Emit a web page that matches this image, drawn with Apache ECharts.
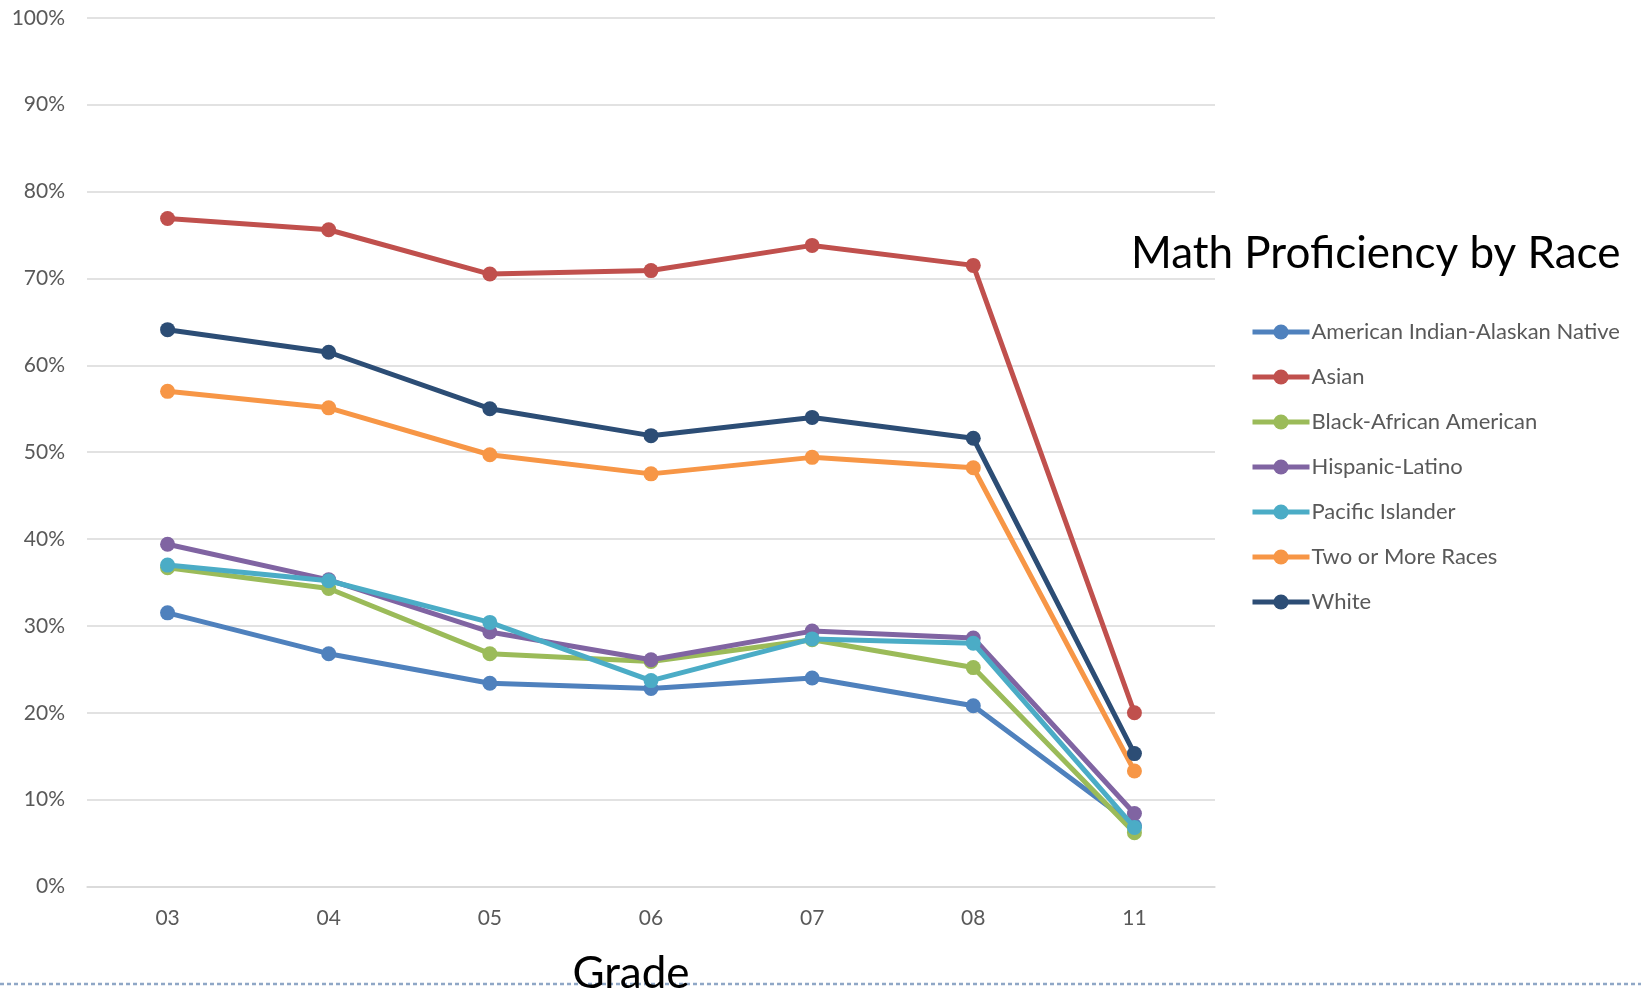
<!DOCTYPE html>
<html>
<head>
<meta charset="utf-8">
<script src="https://cdn.jsdelivr.net/npm/echarts@6/dist/echarts.min.js"></script>
<style>
html,body{margin:0;padding:0;background:#fff;}
#chart{width:1641px;height:991px;}
</style>
</head>
<body>
<div id="chart"></div>
<script>
var grades = ['03','04','05','06','07','08','11'];
var yTicks = [0,10,20,30,40,50,60,70,80,90,100];
var seriesNames = ['American Indian-Alaskan Native','Asian','Black-African American','Hispanic-Latino','Pacific Islander','Two or More Races','White'];
var americanIndian = [31.5, 26.8, 23.4, 22.8, 24.0, 20.8, 7.0];
var asian          = [76.9, 75.6, 70.5, 70.9, 73.8, 71.5, 20.0];
var black          = [36.7, 34.3, 26.8, 25.9, 28.4, 25.2, 6.2];
var hispanic       = [39.4, 35.3, 29.3, 26.1, 29.4, 28.6, 8.4];
var pacific        = [37.0, 35.2, 30.4, 23.7, 28.5, 28.0, 6.8];
var twoOrMore      = [57.0, 55.1, 49.7, 47.5, 49.4, 48.2, 13.3];
var white          = [64.1, 61.5, 55.0, 51.9, 54.0, 51.6, 15.3];
var seriesData = [americanIndian, asian, black, hispanic, pacific, twoOrMore, white];
var colors = ['#4F81BD','#C0504D','#9BBB59','#8064A2','#4BACC6','#F79646','#2C4D75'];
var chartTitle = 'Math Proficiency by Race';
var xTitle = 'Grade';

var FONT = 'Lato, "Open Sans", sans-serif';
var chart = echarts.init(document.getElementById('chart'));
var series = seriesNames.map(function(name, i){
  return {
    name: name,
    type: 'line',
    data: seriesData[i],
    symbol: 'circle',
    symbolSize: 15,
    showSymbol: true,
    lineStyle: {width: 5, color: colors[i]},
    itemStyle: {color: colors[i]},
    emphasis: {disabled: true},
    z: 2 + i
  };
});
chart.setOption({
  animation: false,
  color: colors,
  grid: {left: 87, right: 426, top: 17.8, bottom: 104.5, containLabel: false},
  xAxis: {
    type: 'category',
    data: grades,
    boundaryGap: true,
    axisLine: {show: true, lineStyle: {color: '#D9D9D9', width: 1.5}},
    axisTick: {show: false},
    axisLabel: {color: '#595959', fontSize: 21, fontFamily: FONT, margin: 21}
  },
  yAxis: {
    type: 'value',
    min: yTicks[0],
    max: yTicks[yTicks.length-1],
    interval: yTicks[1]-yTicks[0],
    axisLine: {show: false},
    axisTick: {show: false},
    splitLine: {lineStyle: {color: '#D9D9D9', width: 1.5}},
    axisLabel: {color: '#595959', fontSize: 21, fontFamily: FONT, margin: 22, formatter: '{value}%'}
  },
  legend: {
    orient: 'vertical',
    left: 1245,
    top: 316,
    itemWidth: 57,
    itemHeight: 19,
    itemGap: 23,
    data: seriesNames,
    lineStyle: {width: 5},
    textStyle: {color: '#595959', fontSize: 22, fontFamily: FONT, padding: [0,0,0,-3]}
  },
  graphic: [
    {type: 'line', z: 1, shape: {x1: 0, y1: 984, x2: 1641, y2: 984},
     style: {stroke: '#8FA7C6', lineWidth: 2.5, lineDash: [4, 3]}},
    {type: 'text', z: 10, style: {x: 1131, y: 253.5, text: chartTitle, fill: '#000', font: '44px ' + FONT, textAlign: 'left', textVerticalAlign: 'middle'}},
    {type: 'text', z: 10, style: {x: 631, y: 974, text: xTitle, fill: '#000', font: '44px ' + FONT, textAlign: 'center', textVerticalAlign: 'middle'}}
  ],
  series: series
});
</script>
</body>
</html>
